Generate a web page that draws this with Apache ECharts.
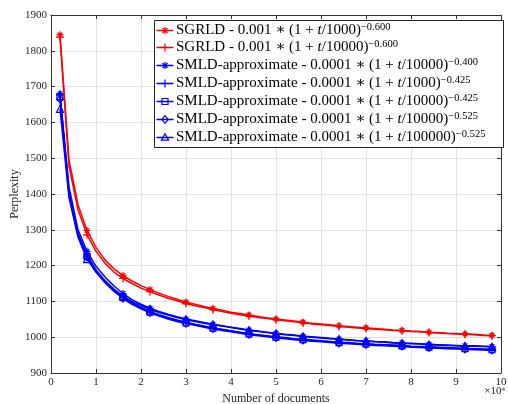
<!DOCTYPE html>
<html><head><meta charset="utf-8">
<script src="https://cdn.jsdelivr.net/npm/echarts@6/dist/echarts.min.js"></script>
<style>html,body{margin:0;padding:0;background:#fff}#c{width:508px;height:404px}</style>
</head><body><div id="c"></div>
<script>
const xDocs = [2000,4000,6000,8000,10000,12000,14000,16000,18000,20000,22000,24000,26000,28000,30000,32000,34000,36000,38000,40000,42000,44000,46000,48000,50000,52000,54000,56000,58000,60000,62000,64000,66000,68000,70000,72000,74000,76000,78000,80000,82000,84000,86000,88000,90000,92000,94000,96000,98000];
const markerIdx = [0,3,7,10,14,17,21,24,27,31,34,38,41,45,48];
const sgrld1000 = [1845,1495,1370,1298,1251,1216,1191,1172,1157,1144,1133,1123,1114,1106,1098,1092,1086,1080,1075,1070,1066,1062,1058,1054,1051,1048,1045,1042,1039,1037,1035,1032,1030,1028,1026,1024,1022,1020,1019,1017,1016,1014,1013,1011,1010,1009,1008,1006,1005];
const sgrld10000 = [1838,1478,1356,1286,1240,1207,1182,1164,1150,1137,1127,1118,1109,1102,1094,1088,1083,1077,1072,1067,1063,1059,1055,1052,1049,1046,1043,1040,1037,1035,1033,1030,1028,1026,1024,1022,1021,1019,1018,1016,1015,1013,1012,1010,1009,1008,1007,1005,1004];
const smld10000_400 = [1680,1420,1300,1240,1198,1168,1143,1122,1105,1092,1081,1072,1064,1057,1051,1046,1041,1036,1032,1028,1024,1020,1017,1014,1011,1008,1006,1003,1001,999,997,995,993,991,990,988,987,985,984,983,982,980,979,978,977,976,976,975,974];
const smld1000_425 = [1677,1408,1290,1230,1188,1158,1134,1113,1097,1083,1072,1063,1055,1048,1042,1036,1031,1026,1022,1018,1014,1010,1007,1004,1001,999,996,994,992,990,988,986,985,983,982,980,979,978,977,975,974,973,972,971,970,969,968,967,966];
const smld10000_425 = [1672,1402,1286,1226,1185,1155,1131,1111,1095,1081,1070,1061,1053,1046,1040,1035,1030,1025,1021,1017,1013,1009,1006,1003,1000,998,995,993,991,989,987,985,984,982,981,979,978,977,976,974,973,972,971,970,969,968,967,966,965];
const smld10000_525 = [1665,1398,1283,1223,1182,1152,1128,1108,1092,1079,1068,1059,1051,1044,1038,1033,1028,1023,1019,1015,1011,1007,1004,1001,998,996,993,991,989,987,985,983,982,980,979,977,976,975,974,972,971,970,969,968,967,966,965,964,963];
const smld100000_525 = [1638,1390,1280,1218,1182,1156,1134,1115,1100,1088,1078,1069,1062,1055,1049,1044,1039,1035,1031,1027,1023,1019,1016,1013,1010,1007,1005,1002,1000,998,996,994,992,990,989,987,986,984,983,982,981,979,978,977,976,975,975,974,973];

const methods = ['SGRLD','SGRLD','SMLD-approximate','SMLD-approximate','SMLD-approximate','SMLD-approximate','SMLD-approximate'];
const coefs = ['0.001','0.001','0.0001','0.0001','0.0001','0.0001','0.0001'];
const scales = ['1000','10000','10000','1000','10000','10000','100000'];
const exps = ['0.600','0.600','0.400','0.425','0.425','0.525','0.525'];
const values = [sgrld1000, sgrld10000, smld10000_400, smld1000_425, smld10000_425, smld10000_525, smld100000_525];
const colors = ['#ff0000','#ff0000','#0000ff','#0000ff','#0000ff','#0000ff','#0000ff'];
const markerKinds = ['star','plus','star','plus','rect','diamond','triangle'];
const xTicks = [0,1,2,3,4,5,6,7,8,9,10];
const yTicks = [900,1000,1100,1200,1300,1400,1500,1600,1700,1800,1900];
const xTitle = 'Number of documents';
const yTitle = 'Perplexity';

const STAR = 'path://M5,0L5,10M0,5L10,5M1.6,1.6L8.4,8.4M8.4,1.6L1.6,8.4';
const PLUS = 'path://M5,0L5,10M0,5L10,5';
const symMap = { star: STAR, plus: PLUS, rect: 'rect', diamond: 'diamond', triangle: 'triangle' };
const sizeMap = { star: 7, plus: 8, rect: 6, diamond: 7, triangle: 7 };

const serif = '"Liberation Serif", "DejaVu Serif", serif';
const names = methods.map((m,i)=> `${m} - ${coefs[i]} * (1 + t/${scales[i]})^-${exps[i]}`);

const series = values.map((ys, k) => ({
  name: names[k], type: 'line',
  showAllSymbol: true,
  symbol: symMap[markerKinds[k]], symbolSize: sizeMap[markerKinds[k]],
  lineStyle: { color: colors[k], width: 1.5 },
  itemStyle: { color: (k>=4 ? 'rgba(255,255,255,0)' : colors[k]), borderColor: colors[k], borderWidth: 1.2 },
  emphasis: { disabled: true },
  z: 10 - k,
  data: xDocs.map((x, i) => markerIdx.includes(i) ? [x, ys[i]] : { value: [x, ys[i]], symbol: 'none' })
}));

// custom legend (graphics)
const LX = 154, LY = 20, LW = 349, LH = 127, ROW0 = 29.5, ROWH = 17.9;
const legendEls = [{
  type: 'rect', shape: { x: LX + 0.5, y: LY + 0.5, width: LW, height: LH },
  style: { fill: '#ffffff', stroke: '#262626', lineWidth: 1 }, z: 100
}];
function seg(x1, y1, x2, y2, col) {
  return { type: 'line', shape: { x1, y1, x2, y2 }, style: { stroke: col, lineWidth: 1.2 }, z: 102 };
}
function markerEls(kind, cx, cy, col) {
  const st = { fill: 'none', stroke: col, lineWidth: 1.2 };
  if (kind === 'star') {
    const r = 3.5, d = r * 0.72;
    return [seg(cx, cy-r, cx, cy+r, col), seg(cx-r, cy, cx+r, cy, col), seg(cx-d, cy-d, cx+d, cy+d, col), seg(cx+d, cy-d, cx-d, cy+d, col)];
  }
  if (kind === 'plus') return [seg(cx, cy-4, cx, cy+4, col), seg(cx-4, cy, cx+4, cy, col)];
  if (kind === 'rect') return [{ type: 'rect', shape: { x: cx-3, y: cy-3, width: 6, height: 6 }, style: st, z: 102 }];
  if (kind === 'diamond') return [{ type: 'polygon', shape: { points: [[cx,cy-3.8],[cx+3.2,cy],[cx,cy+3.8],[cx-3.2,cy]] }, style: st, z: 102 }];
  return [{ type: 'polygon', shape: { points: [[cx,cy-3.8],[cx+3.6,cy+2.6],[cx-3.6,cy+2.6]] }, style: st, z: 102 }];
}
names.forEach((nm, i) => {
  const cy = Math.round(ROW0 + ROWH * i) + 0.5;
  legendEls.push({ type: 'line', shape: { x1: 156.5, y1: cy, x2: 173.5, y2: cy }, style: { stroke: colors[i], lineWidth: 1.5 }, z: 101 });
  markerEls(markerKinds[i], 165, cy, colors[i]).forEach(e => legendEls.push(e));
  legendEls.push({
    type: 'text', x: 176, y: cy, z: 102,
    style: {
      text: `{n|${methods[i]} - ${coefs[i]} ∗ (1 + }{i|t}{n|/${scales[i]})}{s|−${exps[i]}}`,
      verticalAlign: 'middle', align: 'left',
      rich: {
        n: { fontFamily: serif, fontSize: 15, lineHeight: 17, fill: '#000' },
        i: { fontFamily: serif, fontSize: 15, lineHeight: 17, fontStyle: 'italic', fill: '#000' },
        s: { fontFamily: serif, fontSize: 10.5, lineHeight: 10, verticalAlign: 'top', fill: '#000' }
      }
    }
  });
});

const axisCol = '#333333';
const gridCol = '#e3e3e3';
const chart = echarts.init(document.getElementById('c'), null, { renderer: 'canvas' });
chart.setOption({
  animation: false,
  backgroundColor: '#ffffff',
  grid: { left: 51, right: 7, top: 15, bottom: 31, containLabel: false, outerBoundsMode: 'none' },
  xAxis: [{
    type: 'value', min: 0, max: 100000, interval: 10000,
    name: xTitle, nameLocation: 'middle', nameGap: 17,
    nameTextStyle: { fontFamily: serif, fontSize: 12, color: '#262626' },
    axisLine: { onZero: false, lineStyle: { color: axisCol, width: 1 } },
    axisTick: { inside: true, length: 4, lineStyle: { color: axisCol } },
    axisLabel: { margin: 4, fontFamily: serif, fontSize: 11, color: '#262626', formatter: v => String(xTicks[Math.round(v/10000)]) },
    splitLine: { show: true, lineStyle: { color: gridCol, width: 1 } }
  }, {
    type: 'value', min: 0, max: 100000, interval: 10000, position: 'top',
    axisLine: { onZero: false, lineStyle: { color: axisCol, width: 1 } },
    axisTick: { inside: true, length: 4, lineStyle: { color: axisCol } },
    axisLabel: { show: false }, splitLine: { show: false }
  }],
  yAxis: [{
    type: 'value', min: 900, max: 1900, interval: 100,
    axisLine: { show: true, onZero: false, lineStyle: { color: axisCol, width: 1 } },
    axisTick: { show: true, inside: true, length: 4, lineStyle: { color: axisCol } },
    axisLabel: { margin: 4, fontFamily: serif, fontSize: 11, color: '#262626', formatter: v => String(yTicks[Math.round((v-900)/100)]) },
    splitLine: { show: true, lineStyle: { color: gridCol, width: 1 } }
  }, {
    type: 'value', min: 900, max: 1900, interval: 100, position: 'right',
    axisLine: { show: true, onZero: false, lineStyle: { color: axisCol, width: 1 } },
    axisTick: { show: true, inside: true, length: 4, lineStyle: { color: axisCol } },
    axisLabel: { show: false }, splitLine: { show: false }
  }],
  graphic: [{
    type: 'text', x: 505, y: 386, z: 50,
    style: { align: 'right', rich: { a: { fontFamily: serif, fontSize: 11, fill: '#262626' }, b: { fontFamily: serif, fontSize: 7, fill: '#262626', verticalAlign: 'top', lineHeight: 7 } }, text: '{a|×10}{b|4}' }
  }, {
    type: 'text', x: 15, y: 194, rotation: Math.PI / 2, z: 50,
    style: { text: yTitle, align: 'center', verticalAlign: 'middle', fontFamily: serif, fontSize: 12, fill: '#262626' }
  }].concat(legendEls),
  series: series
});
</script></body></html>
